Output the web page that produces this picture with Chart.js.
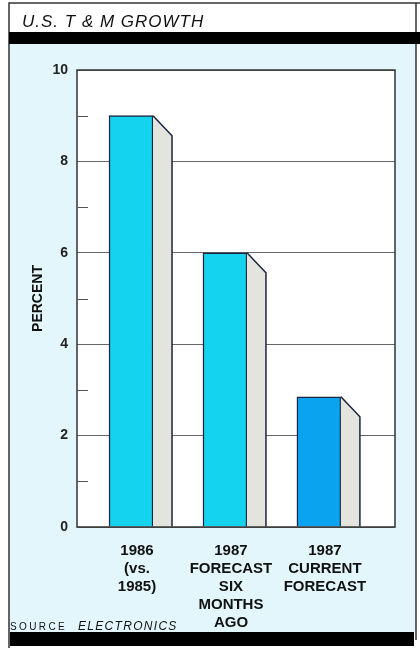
<!DOCTYPE html>
<html lang="en">
<head>
<meta charset="UTF-8">
<title>U.S. T &amp; M Growth</title>
<script src="https://cdn.jsdelivr.net/npm/chart.js"></script>
<style>
  html, body { margin: 0; padding: 0; background: #ffffff; }
  #wrap { width: 420px; height: 648px; }
</style>
</head>
<body>
<div id="wrap"><canvas id="myChart" width="420" height="648"></canvas></div>
<script>
// data
const categories = [
  ['1986', '(vs.', '1985)'],
  ['1987', 'FORECAST', 'SIX', 'MONTHS', 'AGO'],
  ['1987', 'CURRENT', 'FORECAST']
];
const growth = [9, 6, 2.85];
const barColors = ['#14d3ef', '#14d3ef', '#0aa3ef'];

const titleText = 'U.S. T & M GROWTH';
const FONT = "'Liberation Sans', Arial, sans-serif";

// draws the frame, bands, side faces of the bars and texts
const decor = {
  id: 'decor',
  beforeDraw(chart) {
    const ctx = chart.ctx;
    const a = chart.chartArea;
    ctx.save();
    ctx.fillStyle = '#ffffff';
    ctx.fillRect(0, 0, chart.width, chart.height);
    ctx.fillStyle = '#e3f6fb';
    ctx.fillRect(9, 43, 407, 590);
    ctx.fillStyle = '#ffffff';
    ctx.fillRect(a.left, a.top, a.right - a.left, a.bottom - a.top);

    // outer lines
    ctx.strokeStyle = '#333';
    ctx.lineWidth = 1.5;
    ctx.beginPath();
    ctx.moveTo(9, 648); ctx.lineTo(9, 3); ctx.lineTo(420, 3);
    ctx.moveTo(416, 3); ctx.lineTo(416, 640);
    ctx.stroke();

    // black bands
    ctx.fillStyle = '#000';
    ctx.fillRect(9, 32, 411, 12);
    ctx.fillRect(10, 632, 404, 14);

    // title
    ctx.fillStyle = '#111';
    ctx.font = 'italic 17px ' + FONT;
    ctx.letterSpacing = '1px';
    ctx.textBaseline = 'alphabetic';
    ctx.fillText(titleText, 22, 27);
    ctx.restore();
  },
  afterDatasetsDraw(chart) {
    const ctx = chart.ctx;
    const meta = chart.getDatasetMeta(0);
    ctx.save();
    meta.data.forEach(bar => {
      const r = bar.x + bar.width / 2;
      const dx = 19, dy = 20;
      ctx.beginPath();
      ctx.moveTo(r, bar.y);
      ctx.lineTo(r + dx, bar.y + dy);
      ctx.lineTo(r + dx, bar.base);
      ctx.lineTo(r, bar.base);
      ctx.closePath();
      ctx.fillStyle = '#e4e4df';
      ctx.fill();
      ctx.strokeStyle = '#1b2440';
      ctx.lineWidth = 1.5;
      ctx.beginPath();
      ctx.moveTo(r, bar.y);
      ctx.lineTo(r + dx, bar.y + dy);
      ctx.lineTo(r + dx, bar.base);
      ctx.stroke();
    });
    ctx.restore();
  },
  afterDraw(chart) {
    const ctx = chart.ctx;
    const a = chart.chartArea;
    const y = chart.scales.y;
    ctx.save();
    // plot frame
    ctx.strokeStyle = '#333';
    ctx.lineWidth = 1.5;
    ctx.strokeRect(a.left, a.top, a.right - a.left, a.bottom - a.top);
    // minor ticks on the odd values
    ctx.lineWidth = 1;
    ctx.strokeStyle = '#555';
    ctx.beginPath();
    for (let v = 1; v < 10; v += 2) {
      const py = Math.round(y.getPixelForValue(v)) + 0.5;
      ctx.moveTo(a.left, py);
      ctx.lineTo(a.left + 11, py);
    }
    ctx.stroke();

    // source line
    ctx.fillStyle = '#111';
    ctx.textBaseline = 'alphabetic';
    ctx.font = '10px ' + FONT;
    ctx.letterSpacing = '2.4px';
    ctx.fillText('SOURCE', 10, 630);
    ctx.font = 'italic 12px ' + FONT;
    ctx.letterSpacing = '1.3px';
    ctx.fillText('ELECTRONICS', 78, 630);
    ctx.restore();
  }
};

const ctx = document.getElementById('myChart').getContext('2d');
new Chart(ctx, {
  type: 'bar',
  data: {
    datasets: [{
      data: growth.map((v, i) => ({ x: i, y: v })),
      backgroundColor: barColors,
      borderColor: '#1b2440',
      borderWidth: 1.5,
      barThickness: 44
    }]
  },
  options: {
    responsive: false,
    devicePixelRatio: 1,
    animation: false,
    layout: { padding: { top: 70, right: 25, bottom: 0, left: 0 } },
    plugins: {
      legend: { display: false },
      tooltip: { enabled: false }
    },
    scales: {
      x: {
        type: 'linear',
        offset: false,
        min: -0.575,
        max: 2.81,
        afterBuildTicks: s => { s.ticks = categories.map((c, i) => ({ value: i })); },
        afterFit: s => { s.height = 121; },
        grid: { display: false, offset: false },
        border: { display: false },
        ticks: {
          autoSkip: false,
          maxRotation: 0,
          padding: 7,
          labelOffset: 6,
          color: '#111',
          font: { family: FONT, size: 15, weight: 'bold', lineHeight: 1.2 },
          callback: v => categories[v]
        }
      },
      y: {
        min: 0,
        max: 10,
        afterFit: s => { s.width = 77; },
        border: { display: false },
        grid: {
          drawTicks: false,
          lineWidth: 1,
          color: c => (c.tick && c.tick.value % 2 === 0) ? '#666' : 'rgba(0,0,0,0)'
        },
        ticks: {
          stepSize: 1,
          padding: 9,
          color: '#222',
          font: { family: FONT, size: 14, weight: 'bold' },
          callback: v => (v % 2 === 0 ? String(v) : '')
        },
        title: {
          display: true,
          text: 'PERCENT',
          color: '#111',
          font: { family: FONT, size: 14, weight: 'bold' },
          padding: { top: 30, bottom: 0 }
        }
      }
    }
  },
  plugins: [decor]
});
</script>
</body>
</html>
